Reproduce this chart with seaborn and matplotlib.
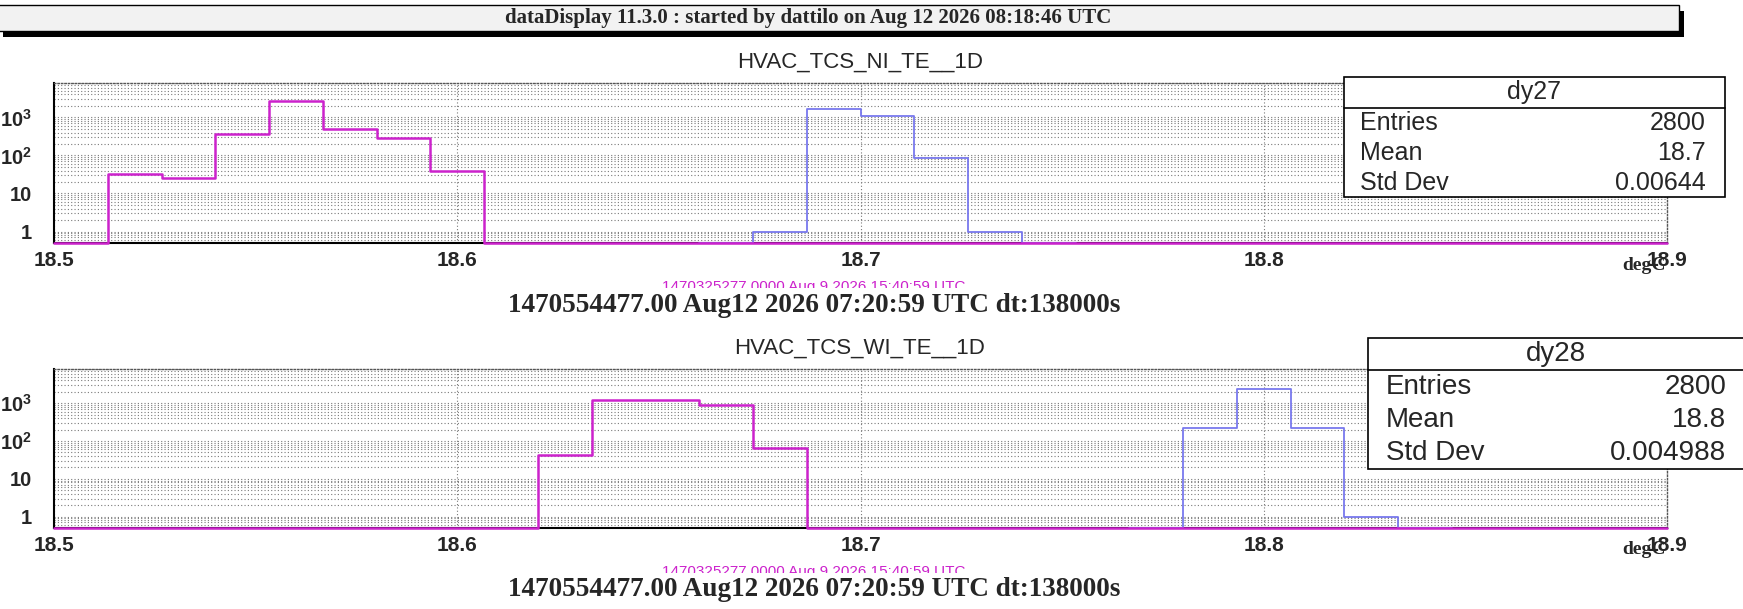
import numpy as np
import pandas as pd
import matplotlib
matplotlib.use("Agg")
import matplotlib.pyplot as plt
import seaborn as sns
from matplotlib.patches import Rectangle
from matplotlib.ticker import FixedLocator, LogLocator, MultipleLocator, NullFormatter

# ---- values ----
x_min, x_max, n_bins = 18.5, 18.9, 30      # 30 bins of 0.0133 degC
y_lo, y_hi = 0.5, 8000

# counts per bin (30 bins each); magenta = reference window, blue = current window
ni_ref = [0, 32, 26, 370, 2750, 500, 290, 38] + [0] * 22
ni_now = [0] * 13 + [1, 1650, 1060, 88, 1] + [0] * 12
wi_ref = [0] * 9 + [42, 1200, 1200, 920, 65] + [0] * 16
wi_now = [0] * 21 + [220, 2360, 219, 1] + [0] * 5

titles = ["HVAC_TCS_NI_TE__1D", "HVAC_TCS_WI_TE__1D"]
stat_ids = ["dy27", "dy28"]
stat_names = ["Entries", "Mean", "Std Dev"]
ni_stats = ["2800", "18.7", "0.00644"]
wi_stats = ["2800", "18.8", "0.004988"]

x_ticks = [18.5, 18.6, 18.7, 18.8, 18.9]
x_tick_labels = ["18.5", "18.6", "18.7", "18.8", "18.9"]
y_ticks = [1, 10, 100, 1000]
y_tick_labels = ["1", "10", "$10^{2}$", "$10^{3}$"]

header = "dataDisplay 11.3.0 : started by dattilo on Aug 12 2026 08:18:46 UTC"
ref_time = "1470325277.0000 Aug 9 2026 15:40:59 UTC"
now_time = "1470554477.00 Aug12 2026 07:20:59 UTC dt:138000s"
unit = "degC"

MAGENTA = "#cc22cc"
BLUE = "#7878ee"

sns.set_style("white")
plt.rcParams["font.family"] = ["Liberation Sans", "DejaVu Sans"]
plt.rcParams["mathtext.fontset"] = "custom"
plt.rcParams["mathtext.rm"] = "Liberation Sans:bold"
plt.rcParams["mathtext.bf"] = "Liberation Sans:bold"
plt.rcParams["mathtext.default"] = "rm"

W, H = 1743, 609
fig = plt.figure(figsize=(W / 100, H / 100), dpi=100)


def fx(px):
    return px / W


def fy(py):
    return 1 - py / H


def fig_rect(x0, x1, y0, y1, **kw):
    # rectangle given in pixels from the top-left corner
    fig.add_artist(Rectangle((fx(x0), fy(y1)), fx(x1) - fx(x0), (y1 - y0) / H,
                             transform=fig.transFigure, **kw))


edges = np.linspace(x_min, x_max, n_bins + 1)
centers = (edges[:-1] + edges[1:]) / 2
bin_w = (x_max - x_min) / n_bins


def draw_hist(ax, counts, color, lw, z, full):
    counts = np.asarray(counts, float)
    shown = np.clip(counts, y_lo, None)   # empty bins sit on the frame, like ROOT
    if full:
        a, b = 0, n_bins
    else:
        nz = np.nonzero(counts)[0]
        a, b = nz[0] - 1, nz[-1] + 2
    df = pd.DataFrame({"temp": centers[a:b], "n": shown[a:b]})
    sns.histplot(data=df, x="temp", weights="n", binwidth=bin_w,
                 binrange=(float(edges[a]), float(edges[b])),
                 element="step", fill=False, color=color, linewidth=lw, ax=ax)
    line = ax.lines[-1]
    line.set_zorder(z)
    line.set_clip_on(False)


# header bar with drop shadow
fig_rect(3, 1684, 11, 37, facecolor="black", edgecolor="none")
fig_rect(-2, 1679, 5, 31, facecolor="#f2f2f2", edgecolor="black", lw=1)
fig.text(fx(808), fy(18), header, ha="center", va="center", fontsize=15,
         fontweight="bold", family="Liberation Serif")

panels = [
    dict(ref=ni_ref, now=ni_now, title=titles[0], sid=stat_ids[0], stats=ni_stats,
         top=83, bot=243, box=(1344, 1725, 77, 108, 197), rows=[123, 153, 183], fs=18,
         lab_x=1360, val_x=1706),
    dict(ref=wi_ref, now=wi_now, title=titles[1], sid=stat_ids[1], stats=wi_stats,
         top=369, bot=528, box=(1368, 1760, 338, 370, 469), rows=[387, 420, 453], fs=20,
         lab_x=1386, val_x=1726),
]

for p in panels:
    ax = fig.add_axes([fx(54), fy(p["bot"]), fx(1667) - fx(54), (p["bot"] - p["top"]) / H])
    draw_hist(ax, p["now"], BLUE, 1.3, 2.9, full=False)
    draw_hist(ax, p["ref"], MAGENTA, 1.8, 3.0, full=True)
    ax.set_yscale("log")
    ax.set_xlim(x_min, x_max)
    ax.set_ylim(y_lo, y_hi)
    ax.set_xlabel("")
    ax.set_ylabel("")

    ax.xaxis.set_major_locator(FixedLocator(x_ticks))
    ax.set_xticklabels(x_tick_labels)
    ax.xaxis.set_minor_locator(MultipleLocator(0.02))
    ax.yaxis.set_major_locator(FixedLocator(y_ticks))
    ax.set_yticklabels(y_tick_labels)
    ax.yaxis.set_minor_locator(LogLocator(base=10, subs=np.arange(2, 10), numticks=20))
    ax.yaxis.set_minor_formatter(NullFormatter())

    ax.set_axisbelow(True)
    ax.grid(which="both", axis="y", linestyle=(0, (1, 2)), color="#7a7a7a", lw=0.8)
    ax.grid(which="major", axis="x", linestyle=(0, (1, 2)), color="#7a7a7a", lw=0.8)

    ax.tick_params(axis="y", which="major", direction="in", length=22, width=1.2,
                   pad=16, labelsize=14.5)
    ax.tick_params(axis="y", which="minor", direction="in", length=11, width=1.0)
    ax.tick_params(axis="x", which="major", direction="in", length=7, width=1.0,
                   pad=6, labelsize=15)
    ax.tick_params(axis="x", which="minor", direction="in", length=4, width=1.0)
    for lab in ax.get_xticklabels() + ax.get_yticklabels():
        lab.set_fontweight("bold")

    for side in ["top", "right"]:
        ax.spines[side].set_linestyle((0, (1, 1.5)))
        ax.spines[side].set_color("#555555")
        ax.spines[side].set_linewidth(1.0)
    for side in ["left", "bottom"]:
        ax.spines[side].set_color("black")
        ax.spines[side].set_linewidth(1.5)

    fig.text(fx(860), fy(p["top"] - 21), p["title"], ha="center", va="center", fontsize=16)
    fig.text(fx(1666), fy(p["bot"] + 22), unit, ha="right", va="center", fontsize=14,
             fontweight="bold", family="Liberation Serif")

    # reference-window time label, half hidden under the white pave of the main time label
    fig.text(fx(814), fy(p["bot"] + 44), ref_time, ha="center", va="center", fontsize=11,
             color=MAGENTA, zorder=3)
    fig_rect(560, 1070, p["bot"] + 45, p["bot"] + 78, facecolor="white", edgecolor="none",
             zorder=3.5)
    fig.text(fx(814), fy(p["bot"] + 62), now_time, ha="center", va="center", fontsize=19.5,
             fontweight="bold", family="Liberation Serif", zorder=4)

    # statistics box
    x0, x1, y0, yd, y1 = p["box"]
    fig_rect(x0, x1, y0, y1, facecolor="white", edgecolor="black", lw=1.2, zorder=5)
    fig.add_artist(plt.Line2D([fx(x0), fx(x1)], [fy(yd), fy(yd)], transform=fig.transFigure,
                              color="black", lw=1.2, zorder=6))
    fig.text(fx((x0 + min(x1, W)) / 2), fy((y0 + yd) / 2), p["sid"], ha="center",
             va="center", fontsize=p["fs"], zorder=7)
    for name, val, ry in zip(stat_names, p["stats"], p["rows"]):
        fig.text(fx(p["lab_x"]), fy(ry), name, ha="left", va="center", fontsize=p["fs"], zorder=7)
        fig.text(fx(p["val_x"]), fy(ry), val, ha="right", va="center", fontsize=p["fs"], zorder=7)

fig.savefig("out.png", dpi=100, facecolor="white")
